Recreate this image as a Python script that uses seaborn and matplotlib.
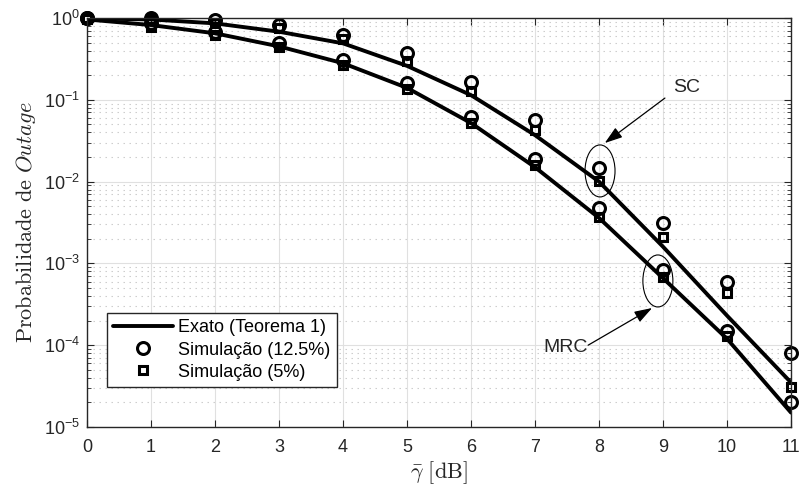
import numpy as np
import pandas as pd
import seaborn as sns
import matplotlib
matplotlib.use("Agg")
import matplotlib.pyplot as plt
from matplotlib.lines import Line2D
from matplotlib.patches import Ellipse
from matplotlib.transforms import ScaledTranslation
from matplotlib.ticker import LogLocator, FuncFormatter, NullFormatter, FixedLocator

# Average SNR axis [dB]
snr_db = [0, 1, 2, 3, 4, 5, 6, 7, 8, 9, 10, 11]

# Exact outage probability (Theorem 1)
sc_exact = [0.99, 0.96, 0.86, 0.68, 0.49, 0.26, 0.114, 0.037, 0.0100, 0.0016, 2.3e-4, 3.5e-5]
mrc_exact = [0.96, 0.82, 0.65, 0.45, 0.28, 0.14, 0.052, 0.015, 0.0036, 6.6e-4, 1.2e-4, 1.5e-5]

# Monte Carlo simulation, 12.5 % estimation error
sc_sim125 = [1.0, 1.0, 0.95, 0.82, 0.62, 0.37, 0.165, 0.056, 0.0147, 0.0031, 5.9e-4, 8.0e-5]
mrc_sim125 = [1.0, 0.88, 0.67, 0.50, 0.31, 0.16, 0.062, 0.019, 0.0047, 8.3e-4, 1.5e-4, 2.0e-5]

# Monte Carlo simulation, 5 % estimation error
sc_sim5 = [0.99, 0.97, 0.87, 0.75, 0.55, 0.30, 0.128, 0.043, 0.0102, 0.0021, 4.4e-4, 3.1e-5]
mrc_sim5 = [0.97, 0.78, 0.62, 0.44, 0.27, 0.135, 0.052, 0.016, 0.0037, 6.8e-4, 1.3e-4, np.nan]

legend_labels = ["Exato (Teorema 1)", "Simulação (12.5%)", "Simulação (5%)"]


def long_form(sc, mrc):
    return pd.DataFrame({
        "snr": snr_db * 2,
        "pout": list(sc) + list(mrc),
        "scheme": ["SC"] * len(snr_db) + ["MRC"] * len(snr_db),
    })


df_exact = long_form(sc_exact, mrc_exact)
df_sim125 = long_form(sc_sim125, mrc_sim125).dropna()
df_sim5 = long_form(sc_sim5, mrc_sim5).dropna()

sns.set_theme(style="ticks")
plt.rcParams["font.family"] = ["Liberation Sans", "DejaVu Sans"]
plt.rcParams["mathtext.fontset"] = "cm"
plt.rcParams["axes.unicode_minus"] = False

ink = "#262626"
fig = plt.figure(figsize=(8, 4.88), dpi=100)
ax = fig.add_axes([87 / 800, 61 / 488, 704 / 800, 409 / 488])

ax.set_yscale("log")
ax.set_xlim(0, 11)
ax.set_ylim(1e-5, 1)

# Grid: solid major lines, dotted minor lines on the log axis
ax.grid(True, which="major", color="#e0e0e0", lw=0.8, ls="-")
ax.grid(True, which="minor", axis="y", color="#cccccc", lw=0.8, ls=(0, (1.3, 4.1)))
ax.grid(False, which="minor", axis="x")
ax.set_axisbelow(True)

line_kw = dict(estimator=None, units="scheme", color="black", legend=False, ax=ax)
sns.lineplot(data=df_exact, x="snr", y="pout", lw=2.8, **line_kw)
mk_kw = dict(linestyle="", markerfacecolor="none", markeredgecolor="black",
             markeredgewidth=2.2, clip_on=False, zorder=4)
sns.lineplot(data=df_sim125, x="snr", y="pout", marker="o", markersize=8.6,
             **mk_kw, **line_kw)
sns.lineplot(data=df_sim5, x="snr", y="pout", marker="s", markersize=6.4,
             **mk_kw, **line_kw)

# Ticks
ax.xaxis.set_major_locator(FixedLocator(snr_db))
ax.yaxis.set_major_locator(LogLocator(base=10, numticks=10))
ax.yaxis.set_minor_locator(LogLocator(base=10, subs=np.arange(2, 10), numticks=20))
ax.yaxis.set_minor_formatter(NullFormatter())
ax.yaxis.set_major_formatter(
    FuncFormatter(lambda v, p: r"$\mathregular{10^{%d}}$" % round(np.log10(v))))
ax.tick_params(axis="both", which="both", direction="in", top=True, right=True,
               colors=ink, labelsize=13)
ax.tick_params(axis="x", which="major", length=5, width=0.8, pad=9)
ax.tick_params(axis="y", which="major", length=5, width=0.8, pad=5)
ax.tick_params(axis="y", which="minor", length=3, width=0.6)
for s in ax.spines.values():
    s.set_color(ink)
    s.set_linewidth(1.0)
    s.set_visible(True)
    s.set_zorder(5)

ax.set_xlabel(r"$\bar{\gamma}\ \mathrm{[dB]}$", fontsize=16, color=ink, labelpad=2)
ax.set_ylabel(r"$\mathrm{Probabilidade\ de\ }Outage$", fontsize=16, color=ink,
              labelpad=4)

# Legend
handles = [
    Line2D([], [], color="black", lw=2.8),
    Line2D([], [], ls="", marker="o", ms=8.6, mew=2.2, mfc="none", mec="black"),
    Line2D([], [], ls="", marker="s", ms=6.4, mew=2.2, mfc="none", mec="black"),
]
leg = ax.legend(handles, legend_labels, loc="lower left",
                bbox_to_anchor=(0.028, 0.098), borderaxespad=0, fontsize=13,
                frameon=True, fancybox=False, framealpha=1, edgecolor=ink,
                handlelength=3.3, handletextpad=0.3, borderpad=0.35,
                labelspacing=0.28)
leg.get_frame().set_linewidth(1.0)
leg.set_zorder(6)
for t in leg.get_texts():
    t.set_color("black")

# Annotations: diversity scheme labels with arrows and ellipses
arrow_kw = dict(arrowstyle="-|>,head_length=0.9,head_width=0.3", lw=0.9,
                color="black", shrinkA=0, shrinkB=0)
ax.annotate("", xy=(8.09, 0.0296), xytext=(9.03, 0.105), arrowprops=arrow_kw)
ax.text(9.375, 0.143, "SC", fontsize=14, ha="center", va="center")
ax.annotate("", xy=(8.83, 2.85e-4), xytext=(7.83, 1.0e-4), arrowprops=arrow_kw)
ax.text(7.82, 9.5e-5, "MRC", fontsize=14, ha="right", va="center")

for cx, cy in [(8.016, 0.0135), (8.92, 6.1e-4)]:
    ell = Ellipse((0, 0), 0.30, 0.52, fill=False, lw=0.8, ec="black",
                  transform=fig.dpi_scale_trans + ScaledTranslation(cx, cy, ax.transData))
    ax.add_patch(ell)

fig.savefig("out.png", dpi=100)
